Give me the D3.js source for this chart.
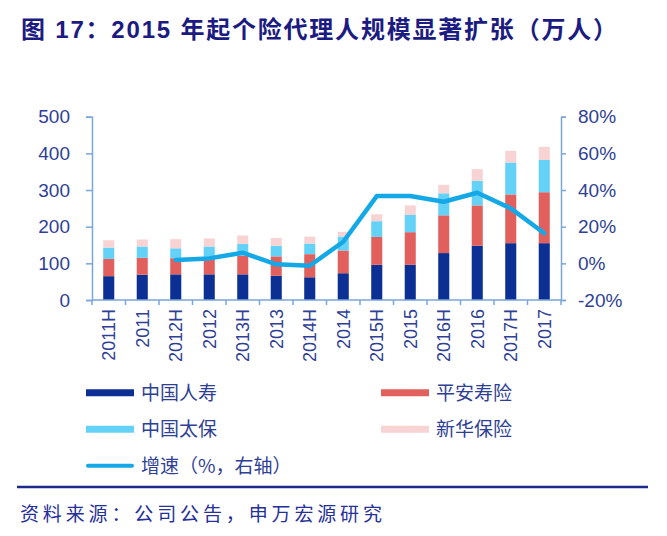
<!DOCTYPE html>
<html>
<head>
<meta charset="utf-8">
<script src="https://cdn.jsdelivr.net/npm/d3@7"></script>
<style>
html,body{margin:0;padding:0;background:#fff;}
svg{display:block;}
text{font-family:"Liberation Sans","Noto Sans CJK SC",Arial,sans-serif;}
</style>
</head>
<body>
<svg id="chart" width="667" height="536"></svg>
<script>
const categories = ["2011H","2011","2012H","2012","2013H","2013","2014H","2014","2015H","2015","2016H","2016","2017H","2017"];
const chinaLife = [65,69,70,70,70,66,62,73,96,96,128,148,155,155];
const pingAn    = [47,46,44,44,51,53,63,62,76,89,103,110,133,139];
const cpic      = [31,31,27,32,32,29,29,38,43,47,60,67,87,88];
const nci       = [20,19,25,22,23,21,19,13,19,26,23,32,32,36];
const growth    = [null,null,1.8,2.7,5.8,-0.5,-1.3,11.8,36.7,36.7,33.6,38.5,30,16.4];
const leftTicks = [0,100,200,300,400,500];
const rightTicks = [-20,0,20,40,60,80];
const seriesNames = ["中国人寿","平安寿险","中国太保","新华保险"];
const lineName = "增速（%，右轴）";
const titleText = "图 17：2015 年起个险代理人规模显著扩张（万人）";
const sourceText = "资料来源：公司公告，申万宏源研究";

const colors = ["#0b2f92","#e1605e","#64d2f7","#f8d3d3"];
const lineColor = "#14a9e6";
const axisColor = "#7aa6d8";
const textColor = "#2f3f95";

const svg = d3.select("#chart");

// Title
svg.append("text")
  .attr("x", 21).attr("y", 38)
  .attr("textLength", 596).attr("lengthAdjust", "spacing")
  .style("font-size", "24px").style("font-weight", "bold")
  .style("fill", "#1b1b82")
  .text(titleText);

const x = d3.scaleBand().domain(categories).range([92, 561])
  .paddingInner(0.67).paddingOuter(0.335);
const yL = d3.scaleLinear().domain([0, 500]).range([300, 116.7]);
const yR = d3.scaleLinear().domain([-20, 80]).range([300, 116.7]);

// stacked data
const rows = categories.map((c, i) => ({cat: c, a: chinaLife[i], b: pingAn[i], c: cpic[i], d: nci[i]}));
const stack = d3.stack().keys(["a","b","c","d"]);
const stacked = stack(rows);

svg.append("g").selectAll("g").data(stacked).join("g")
  .attr("fill", (d, i) => colors[i])
  .selectAll("rect").data(d => d).join("rect")
  .attr("x", d => x(d.data.cat))
  .attr("width", x.bandwidth())
  .attr("y", d => yL(d[1]))
  .attr("height", d => yL(d[0]) - yL(d[1]));

// axes
const gL = svg.append("g").attr("transform", "translate(92,0)")
  .call(d3.axisLeft(yL).tickValues(leftTicks).tickSize(6).tickPadding(16).tickFormat(d3.format("d")));
const gR = svg.append("g").attr("transform", "translate(561,0)")
  .call(d3.axisRight(yR).tickValues(rightTicks).tickSize(5).tickPadding(12).tickFormat(d => d + "%"));
const gX = svg.append("g").attr("transform", "translate(0,300)")
  .call(d3.axisBottom(x).tickSize(0).tickPadding(0));

[gL, gR, gX].forEach(g => {
  g.selectAll("path.domain").attr("stroke", axisColor).attr("stroke-width", 1.5);
  g.selectAll(".tick line").attr("stroke", axisColor).attr("stroke-width", 1.5);
  g.selectAll("text").style("font-size", "19px").style("fill", textColor)
    .style("font-family", "'Liberation Sans',Arial,sans-serif");
});
gX.select("path.domain").attr("d", "M92,0H561");
gX.selectAll(".tick text")
  .attr("transform", "rotate(-90)")
  .attr("text-anchor", "end")
  .attr("x", -9).attr("y", 0).attr("dy", "0.36em")
  .style("font-size", "18px");

// x tick marks at band boundaries
const bounds = d3.range(categories.length + 1).map(i => 92 + i * x.step());
gX.selectAll("line.bnd").data(bounds).join("line")
  .attr("class", "bnd")
  .attr("x1", d => d).attr("x2", d => d)
  .attr("y1", 0).attr("y2", 5)
  .attr("stroke", axisColor).attr("stroke-width", 1.5);

// growth line
const line = d3.line()
  .defined(d => d.v !== null)
  .x(d => x(d.cat) + x.bandwidth() / 2)
  .y(d => yR(d.v));
svg.append("path")
  .datum(categories.map((c, i) => ({cat: c, v: growth[i]})))
  .attr("fill", "none")
  .attr("stroke", lineColor)
  .attr("stroke-width", 4.5)
  .attr("stroke-linejoin", "round")
  .attr("stroke-linecap", "round")
  .attr("d", line);

// legend
const legendItems = [
  {name: seriesNames[0], color: colors[0], type: "bar", x: 86, y: 392.7},
  {name: seriesNames[1], color: colors[1], type: "bar", x: 381, y: 392.7},
  {name: seriesNames[2], color: colors[2], type: "bar", x: 86, y: 429.3},
  {name: seriesNames[3], color: colors[3], type: "bar", x: 381, y: 429.3},
  {name: lineName, color: lineColor, type: "line", x: 86, y: 465.7}
];
const lg = svg.append("g").selectAll("g").data(legendItems).join("g")
  .attr("transform", d => `translate(${d.x},${d.y})`);
lg.append("line")
  .attr("x1", d => d.type === "line" ? 2 : 0).attr("x2", d => d.type === "line" ? 46 : 48)
  .attr("y1", 0).attr("y2", 0)
  .attr("stroke", d => d.color)
  .attr("stroke-width", d => d.type === "line" ? 4 : 7)
  .attr("stroke-linecap", d => d.type === "line" ? "round" : "butt");
lg.append("text")
  .attr("x", 55).attr("y", 0).attr("dy", "0.36em")
  .style("font-size", "19px").style("fill", textColor)
  .style("font-family", "'Noto Sans CJK SC','Liberation Sans',sans-serif")
  .text(d => d.name);

// separator
svg.append("line")
  .attr("x1", 17).attr("x2", 648).attr("y1", 487).attr("y2", 487)
  .attr("stroke", "#1d2a8c").attr("stroke-width", 2.5);

// source
svg.append("text")
  .attr("x", 20).attr("y", 521)
  .attr("textLength", 362).attr("lengthAdjust", "spacing")
  .style("font-size", "19px").style("fill", "#25309a")
  .style("font-family", "'Noto Sans CJK SC',sans-serif")
  .text(sourceText);
</script>
</body>
</html>
